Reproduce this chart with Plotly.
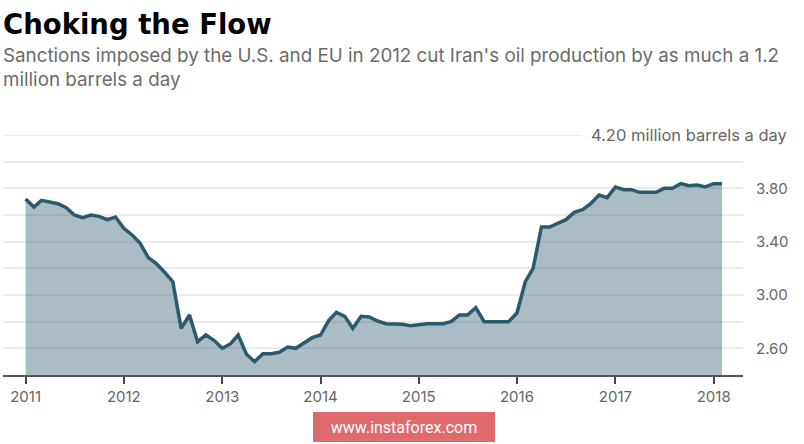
import pandas as pd
import plotly.graph_objects as go

# Monthly data, Jan 2011 - Feb 2018 (million barrels a day)
months = pd.date_range("2011-01-01", "2018-02-01", freq="MS")
production = [
    # 2011
    3.72, 3.66, 3.71, 3.70, 3.685, 3.655, 3.60, 3.58, 3.60, 3.59, 3.565, 3.585,
    # 2012
    3.50, 3.45, 3.39, 3.28, 3.235, 3.17, 3.10, 2.75, 2.85, 2.65, 2.70, 2.66,
    # 2013
    2.60, 2.635, 2.70, 2.555, 2.50, 2.56, 2.56, 2.57, 2.61, 2.60, 2.64, 2.68,
    # 2014
    2.70, 2.81, 2.87, 2.84, 2.75, 2.84, 2.835, 2.805, 2.785, 2.785, 2.78, 2.77,
    # 2015
    2.78, 2.785, 2.785, 2.785, 2.80, 2.85, 2.85, 2.905, 2.80, 2.80, 2.80, 2.80,
    # 2016
    2.865, 3.10, 3.20, 3.51, 3.51, 3.535, 3.565, 3.62, 3.64, 3.685, 3.75, 3.73,
    # 2017
    3.81, 3.79, 3.79, 3.77, 3.77, 3.77, 3.80, 3.80, 3.835, 3.82, 3.825, 3.81,
    # 2018
    3.835, 3.835,
]
year_ticks = ["2011-01-01", "2012-01-01", "2013-01-01", "2014-01-01",
              "2015-01-01", "2016-01-01", "2017-01-01", "2018-01-01"]
year_labels = ["2011", "2012", "2013", "2014", "2015", "2016", "2017", "2018"]
y_tickvals = [2.6, 3.0, 3.4, 3.8]
y_ticktext = ["2.60", "3.00", "3.40", "3.80"]
top_value = 4.2
top_label = "4.20 million barrels a day"
title_text = "Choking the Flow"
subtitle_lines = [
    "Sanctions imposed by the U.S. and EU in 2012 cut Iran's oil production by as much a 1.2",
    "million barrels a day",
]

PLOT_TOP, PLOT_BOTTOM = 135, 375
PH = PLOT_BOTTOM - PLOT_TOP


def py(pixel_y):
    return (PLOT_BOTTOM - pixel_y) / PH


fig = go.Figure()
fig.add_trace(go.Scatter(
    x=months, y=production, mode="lines",
    line=dict(color="#2a5a6c", width=3.5),
    fill="tozeroy", fillcolor="rgba(43,91,110,0.40)",
    hoverinfo="skip", showlegend=False,
))

annotations = [
    dict(text="<b>" + title_text + "</b>", xref="paper", yref="paper",
         x=-0.003, y=py(24), xanchor="left", yanchor="middle", showarrow=False,
         font=dict(family="DejaVu Sans, sans-serif", size=27.5, color="#000000", weight=900)),
    dict(text="<br>".join(subtitle_lines), xref="paper", yref="paper",
         x=-0.003, y=py(67.5), xanchor="left", yanchor="middle", showarrow=False,
         align="left",
         font=dict(family="Inter, Roboto, sans-serif", size=18.8, color="#6b6b6b")),
    dict(text=top_label, xref="paper", yref="y", x=1.062, y=top_value,
         xanchor="right", yanchor="middle", showarrow=False,
         font=dict(size=16.5, color="#666666")),
    dict(text="www.instaforex.com", xref="paper", yref="paper",
         x=(404 - 3) / 740, y=py(427), xanchor="center", yanchor="middle",
         showarrow=False, bgcolor="#e06a6c", bordercolor="#e06a6c",
         width=174, height=22, borderpad=3,
         font=dict(family="Roboto, sans-serif", size=16, color="#ffffff")),
]

fig.update_layout(
    width=804, height=444,
    margin=dict(l=3, r=61, t=PLOT_TOP, b=444 - PLOT_BOTTOM),
    paper_bgcolor="white", plot_bgcolor="white",
    font=dict(family="Inter, Roboto, sans-serif", color="#666666"),
    xaxis=dict(
        range=["2010-10-09", "2018-04-20"],
        tickvals=year_ticks, ticktext=year_labels,
        showgrid=False, zeroline=False, automargin=False,
        showline=True, linecolor="#555555", linewidth=2,
        ticks="outside", ticklen=7, tickwidth=1.5, tickcolor="#444444",
        tickfont=dict(size=15, color="#666666"),
        fixedrange=True,
    ),
    yaxis=dict(
        range=[2.4, top_value], side="right", automargin=False,
        tickvals=y_tickvals, ticktext=y_ticktext,
        showgrid=True, gridcolor="#ececec", gridwidth=2,
        minor=dict(dtick=0.2, tick0=2.4, showgrid=True, gridcolor="#ececec", gridwidth=2),
        zeroline=False, showline=False, ticks="",
        ticklabelstandoff=12,
        tickfont=dict(size=15, color="#666666"),
        fixedrange=True,
    ),
    shapes=[dict(type="line", xref="paper", yref="y", x0=0, x1=0.782,
                 y0=top_value, y1=top_value, line=dict(color="#ececec", width=2),
                 layer="below")],
    annotations=annotations,
)

fig.write_html("out.html", config={"displayModeBar": False},
               post_script="document.body.style.margin='0';")
